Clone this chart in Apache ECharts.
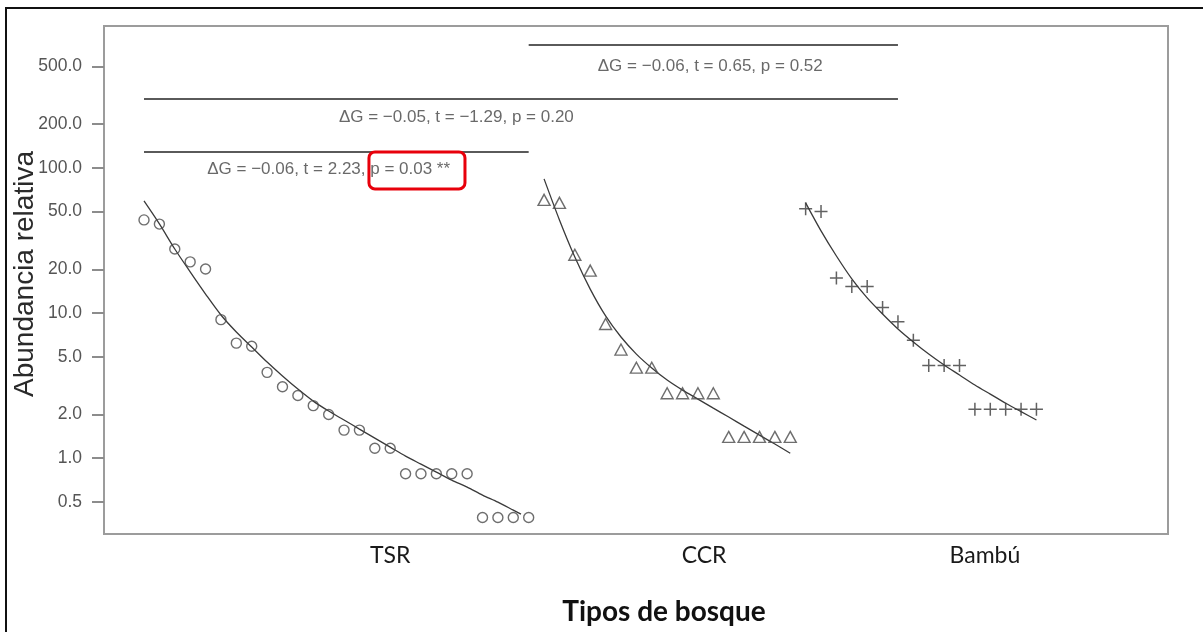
<!DOCTYPE html>
<html>
<head>
<meta charset="utf-8">
<style>
  html, body { margin: 0; padding: 0; background: #ffffff; }
  #chart { width: 1203px; height: 632px; }
</style>
<script src="https://cdn.jsdelivr.net/npm/echarts@6/dist/echarts.min.js"></script>
</head>
<body>
<div id="chart"></div>
<script>
// ---------- data ----------
const categories = ['TSR', 'CCR', 'Bambú'];
const yTicks = [0.5, 1, 2, 5, 10, 20, 50, 100, 200, 500];

// observed relative abundances (rank order), one array per forest type
const tsrValues = [43.8, 41.0, 27.6, 22.5, 20.1, 9.0, 6.2, 5.9, 3.9, 3.1, 2.7, 2.3, 2.0,
                   1.56, 1.56, 1.17, 1.17, 0.78, 0.78, 0.78, 0.78, 0.78, 0.39, 0.39, 0.39, 0.39];
const ccrValues = [60.2, 57.4, 25.2, 19.6, 8.4, 5.6, 4.2, 4.2, 2.8, 2.8, 2.8, 2.8,
                   1.4, 1.4, 1.4, 1.4, 1.4];
const bambuValues = [52.2, 50.0, 17.4, 15.2, 15.2, 10.9, 8.7, 6.5, 4.35, 4.35, 4.35,
                     2.17, 2.17, 2.17, 2.17, 2.17];

// fitted curves: [rank, abundance]
const tsrFit = [[0, 59.2], [1, 41.1], [2, 27.6], [3, 19.2], [4, 13.5], [5, 9.69], [6, 7.40],
                [7, 5.83], [8, 4.59], [9, 3.68], [10, 2.99], [11, 2.47], [12, 2.11], [13, 1.83],
                [14, 1.585], [15, 1.374], [16, 1.191], [17, 1.032], [18, 0.909], [19, 0.801],
                [20, 0.705], [21, 0.631], [22, 0.556], [23, 0.497], [24, 0.438], [24.5, 0.411]];
const ccrFit = [[26, 84.0], [27, 43.8], [28, 24.3], [29, 14.6], [30, 9.54], [31, 6.83],
                [32, 5.21], [33, 4.18], [34, 3.45], [35, 2.94], [36, 2.55], [37, 2.21],
                [38, 1.92], [39, 1.66], [40, 1.44], [41, 1.25], [42, 1.08]];
const bambuFit = [[43, 57.4], [44, 36.8], [45, 24.7], [46, 17.2], [47, 12.7], [48, 9.84],
                  [49, 7.76], [50, 6.31], [51, 5.21], [52, 4.38], [53, 3.74], [54, 3.19],
                  [55, 2.76], [56, 2.39], [57, 2.09], [58, 1.83]];

// pairwise comparisons: [fromRank, toRank, level], text and where it sits
const comparisonLines = [[25, 49, 705], [0, 49, 299], [0, 25, 129]];
const comparisonTexts = ['ΔG = −0.06, t = 0.65, p = 0.52',
                         'ΔG = −0.05, t = −1.29, p = 0.20',
                         'ΔG = −0.06, t = 2.23, p = 0.03 **'];
const comparisonTextAt = [[36.8, 500], [20.3, 224], [12.0, 97]];
const highlightBox = [[14.62, 128.9], [20.86, 71.6]];

// ---------- build ----------
const categoryLabelAt = [16.0, 36.4, 54.65];
let rank = 0;
function toPoints(values) {
  return values.map(v => [rank++, v]);
}
const tsrPts = toPoints(tsrValues);
const ccrPts = toPoints(ccrValues);
const bambuPts = toPoints(bambuValues);

const markerStyle = { color: 'rgba(0,0,0,0)', borderColor: '#4a4a4a', borderWidth: 1.4 };
const plusPath = 'path://M5,0L5,10M0,5L10,5';

function fitSeries(data) {
  return {
    type: 'line', data: data, smooth: 0.3, showSymbol: false, silent: true,
    lineStyle: { color: '#3a3a3a', width: 1.3 }, z: 2
  };
}

const chart = echarts.init(document.getElementById('chart'), null, { renderer: 'canvas' });

const option = {
  backgroundColor: '#ffffff',
  animation: false,
  grid: { left: 104, right: 35, top: 26, bottom: 98, show: true, outerBoundsMode: 'none',
          containLabel: false,
          borderColor: '#9c9c9c', borderWidth: 2, backgroundColor: 'transparent' },
  xAxis: {
    type: 'value', min: -2.6, max: 66.55,
    axisLine: { show: true, onZero: false, lineStyle: { color: '#9c9c9c', width: 2 } },
    axisTick: { show: false },
    splitLine: { show: false },
    axisLabel: {
      customValues: categoryLabelAt,
      margin: 10,
      fontFamily: 'Lato', fontSize: 23, color: '#1a1a1a',
      formatter: function (v) {
        let best = 0;
        categoryLabelAt.forEach((p, i) => { if (Math.abs(p - v) < Math.abs(categoryLabelAt[best] - v)) best = i; });
        return categories[best];
      }
    }
  },
  yAxis: {
    type: 'log', logBase: 10, min: 0.3, max: 950,
    name: 'Abundancia relativa', nameLocation: 'middle', nameGap: 65, nameMoveOverlap: false,
    nameTextStyle: { fontFamily: 'Liberation Sans', fontSize: 28, color: '#2a2a2a',
                     padding: [0, 0, 0, 12] },
    axisLine: { show: true, onZero: false, lineStyle: { color: '#9c9c9c', width: 2 } },
    axisTick: { show: true, length: 12, customValues: yTicks, lineStyle: { color: '#8c8c8c', width: 2 } },
    minorTick: { show: false },
    splitLine: { show: false },
    axisLabel: {
      customValues: yTicks, margin: 22,
      fontFamily: 'Liberation Sans', fontSize: 17.5, color: '#555555',
      formatter: function (v) { return (+v).toFixed(1); }
    }
  },
  series: [
    { type: 'scatter', name: 'TSR', data: tsrPts, symbol: 'circle', symbolSize: 10,
      itemStyle: markerStyle, z: 3 },
    { type: 'scatter', name: 'CCR', data: ccrPts, symbol: 'triangle', symbolSize: [12, 11],
      itemStyle: markerStyle, z: 3 },
    { type: 'scatter', name: 'Bambú', data: bambuPts, symbol: plusPath, symbolSize: 13,
      itemStyle: { color: 'rgba(0,0,0,0)', borderColor: '#3a3a3a', borderWidth: 1.5 }, z: 3 },
    fitSeries(tsrFit),
    fitSeries(ccrFit),
    fitSeries(bambuFit),
    {
      type: 'scatter', silent: true, symbolSize: 0,
      data: comparisonTextAt.map((p, i) => ({ value: p, text: comparisonTexts[i] })),
      label: {
        show: true, position: 'inside',
        formatter: function (p) { return p.data.text; },
        fontFamily: 'Liberation Sans', fontSize: 17, color: '#444444'
      },
      markLine: {
        silent: true, symbol: ['none', 'none'], animation: false,
        label: { show: false },
        lineStyle: { color: '#5a5a5a', width: 2, type: 'solid' },
        data: comparisonLines.map(l => [{ coord: [l[0], l[2]] }, { coord: [l[1], l[2]] }])
      }
    }
  ],
  graphic: [
    { type: 'rect', id: 'frame', silent: true, shape: { x: 6, y: 8, width: 1400, height: 800 },
      style: { fill: 'none', stroke: '#111111', lineWidth: 2 } },
    { type: 'text', id: 'xname', silent: true, x: 664, y: 612,
      style: { text: 'Tipos de bosque', fontFamily: 'Lato', fontWeight: 'bold', fontSize: 28,
               fill: '#111111', textAlign: 'center', textVerticalAlign: 'middle' } }
  ]
};
chart.setOption(option);

const b1 = chart.convertToPixel({ gridIndex: 0 }, highlightBox[0]);
const b2 = chart.convertToPixel({ gridIndex: 0 }, highlightBox[1]);
chart.setOption({
  graphic: [
    { type: 'rect', id: 'redbox', silent: true, z: 100,
      shape: { x: Math.min(b1[0], b2[0]), y: Math.min(b1[1], b2[1]),
               width: Math.abs(b2[0] - b1[0]), height: Math.abs(b2[1] - b1[1]), r: 6 },
      style: { fill: 'none', stroke: '#e8000b', lineWidth: 3 } }
  ]
});
</script>
</body>
</html>
